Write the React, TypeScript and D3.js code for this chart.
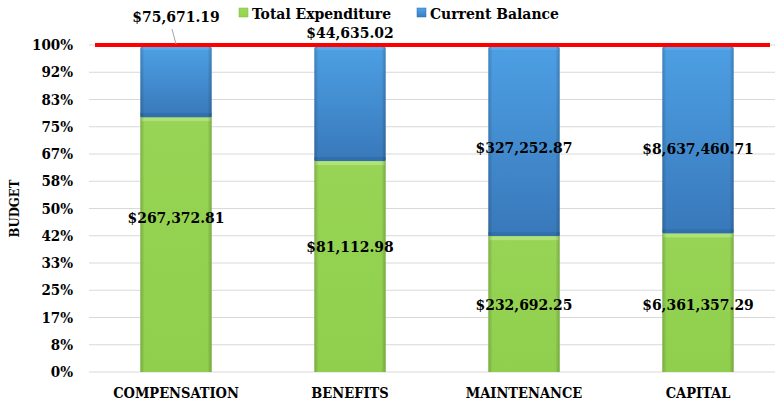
import React from 'react';
import * as d3 from 'd3';

const categories = ['COMPENSATION', 'BENEFITS', 'MAINTENANCE', 'CAPITAL'];
const totalExpenditure = [267372.81, 81112.98, 232692.25, 6361357.29];
const currentBalance = [75671.19, 44635.02, 327252.87, 8637460.71];
const tickLabels = ['0%', '8%', '17%', '25%', '33%', '42%', '50%', '58%', '67%', '75%', '83%', '92%', '100%'];
const seriesNames = ['Total Expenditure', 'Current Balance'];

// manual label nudges (px), like the dragged labels in the original sheet
const greenNudge = [-27, -20, 0, 2];
const blueNudge = [null, null, 7, 9];

const W = 779;
const H = 406;
const FONT = '"DejaVu Serif Condensed", "DejaVu Serif", serif';

const fmt = (v: number) => '$' + d3.format(',.2f')(v);

export default function App() {
  const x = d3.scaleBand<string>().domain(categories).range([89, 785]).padding(0);
  const y = d3.scaleLinear().domain([0, 1]).range([372, 45]);
  const barW = x.bandwidth() * 0.41;

  const rows = categories.map((c, i) => {
    const tot = totalExpenditure[i] + currentBalance[i];
    return { c, i, g: totalExpenditure[i] / tot };
  });

  return (
    <svg width={W} height={H} style={{ position: 'absolute', left: 0, top: 0, fontFamily: FONT }}>
      <defs>
        <linearGradient id="greenV" x1="0" y1="0" x2="0" y2="1">
          <stop offset="0" stopColor="#9cdb58" />
          <stop offset="1" stopColor="#94d44f" />
        </linearGradient>
        <linearGradient id="blueV" x1="0" y1="0" x2="0" y2="1">
          <stop offset="0" stopColor="#4fa4eb" />
          <stop offset="1" stopColor="#3a7cc0" />
        </linearGradient>
        <linearGradient id="edgeH" x1="0" y1="0" x2="1" y2="0">
          <stop offset="0" stopColor="#000" stopOpacity="0.2" />
          <stop offset="0.06" stopColor="#000" stopOpacity="0.03" />
          <stop offset="0.94" stopColor="#000" stopOpacity="0.03" />
          <stop offset="1" stopColor="#000" stopOpacity="0.22" />
        </linearGradient>
      </defs>

      {/* gridlines */}
      {tickLabels.map((t, i) => (
        <line key={t} x1={89} x2={775} y1={y(i / 12)} y2={y(i / 12)} stroke="#d9d9d9" strokeWidth={1} />
      ))}

      {/* y tick labels */}
      {tickLabels.map((t, i) => (
        <text key={'l' + t} x={73} y={y(i / 12)} textAnchor="end" dominantBaseline="central"
          fontSize={15} fontWeight="bold" fill="#000">{t}</text>
      ))}

      <text transform={`translate(14,${(y(0) + y(1)) / 2}) rotate(-90)`} textAnchor="middle"
        dominantBaseline="central" fontSize={13} fontWeight="bold">BUDGET</text>

      {/* bars */}
      {rows.map(r => {
        const bx = x(r.c)! + (x.bandwidth() - barW) / 2;
        const gTop = y(r.g);
        const bTop = y(1) + 2;
        return (
          <g key={r.c}>
            <rect x={bx} y={gTop} width={barW} height={y(0) - gTop} fill="url(#greenV)" />
            <rect x={bx + 1} y={gTop} width={barW - 2} height={4} fill="#b4ea7c" />
            <rect x={bx} y={gTop} width={barW} height={y(0) - gTop} fill="url(#edgeH)" />
            <rect x={bx} y={bTop} width={barW} height={gTop - bTop} fill="url(#blueV)" rx={1.5} />
            <rect x={bx + 1} y={bTop} width={barW - 2} height={3} fill="#5aaff0" />
            <rect x={bx} y={gTop - 4} width={barW} height={4} fill="#2f6aa6" opacity={0.6} />
            <rect x={bx} y={bTop} width={barW} height={gTop - bTop} fill="url(#edgeH)" />
          </g>
        );
      })}

      {/* red 100% line */}
      <line x1={95} x2={770} y1={y(1)} y2={y(1)} stroke="#ff0000" strokeWidth={4} />

      {/* data labels */}
      {rows.map(r => {
        const cx = x(r.c)! + x.bandwidth() / 2;
        const gy = (y(0) + y(r.g)) / 2 + greenNudge[r.i];
        const nb = blueNudge[r.i];
        const by = nb === null ? (r.i === 0 ? y(1) - 29 : y(1) - 13) : (y(1) + y(r.g)) / 2 + nb;
        return (
          <g key={'t' + r.c} fontSize={15.5} fontWeight="bold" fill="#000" textAnchor="middle">
            <text x={cx} y={gy} dominantBaseline="central">{fmt(totalExpenditure[r.i])}</text>
            <text x={cx} y={by} dominantBaseline="central">{fmt(currentBalance[r.i])}</text>
          </g>
        );
      })}
      <line x1={172} y1={29} x2={176} y2={y(1) - 1} stroke="#a6a6a6" strokeWidth={1} />

      {/* category labels */}
      {categories.map(c => (
        <text key={'c' + c} x={x(c)! + x.bandwidth() / 2} y={392} textAnchor="middle"
          dominantBaseline="central" fontSize={14.5} fontWeight="bold">{c}</text>
      ))}

      {/* legend */}
      <rect x={239} y={8} width={9} height={9} fill="url(#greenV)" stroke="#7fb842" strokeWidth={0.5} />
      <text x={252} y={13} dominantBaseline="central" fontSize={15.5} fontWeight="bold">{seriesNames[0]}</text>
      <rect x={417} y={8} width={9} height={9} fill="url(#blueV)" stroke="#2f6aa8" strokeWidth={0.5} />
      <text x={430} y={13} dominantBaseline="central" fontSize={15.5} fontWeight="bold">{seriesNames[1]}</text>
    </svg>
  );
}
